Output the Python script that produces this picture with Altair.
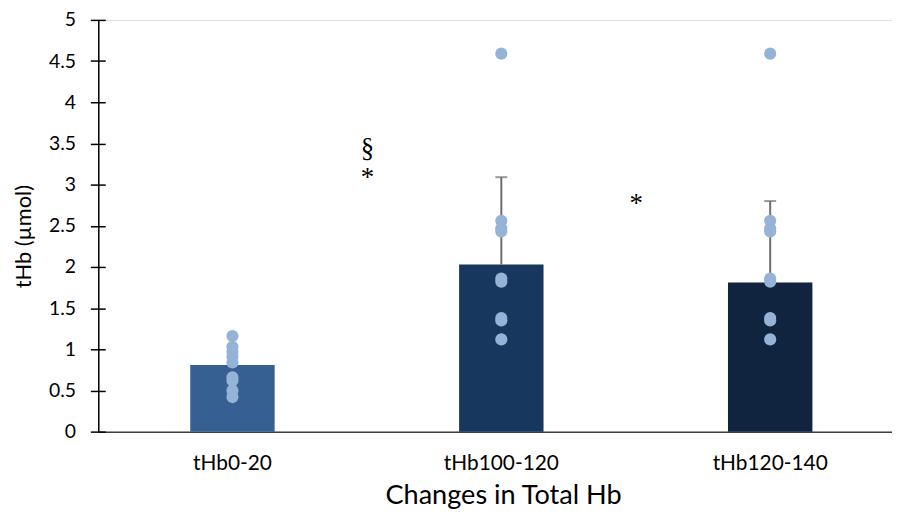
import altair as alt
import pandas as pd

categories = ["tHb0-20", "tHb100-120", "tHb120-140"]
means = [0.81, 2.03, 1.81]
err_top = [None, 3.09, 2.80]
bar_colors = ["#376092", "#17375E", "#10243F"]

points_0_20 = [1.16, 1.03, 0.97, 0.91, 0.84, 0.66, 0.62, 0.50, 0.42]
points_100_120 = [4.59, 2.56, 2.47, 2.43, 1.86, 1.82, 1.38, 1.35, 1.12]
points_120_140 = [4.59, 2.56, 2.47, 2.43, 1.86, 1.82, 1.38, 1.35, 1.12]

ann_text = ["§", "*", "*"]
ann_cat = ["tHb0-20", "tHb0-20", "tHb100-120"]
ann_y = [3.33, 2.98, 2.67]

y_ticks = [0, 0.5, 1, 1.5, 2, 2.5, 3, 3.5, 4, 4.5, 5]

bars_df = pd.DataFrame({"cat": categories, "mean": means, "color": bar_colors})
err_df = pd.DataFrame({"cat": categories, "mean": means, "top": err_top}).dropna()
pts_df = pd.DataFrame({
    "cat": [categories[0]] * len(points_0_20) + [categories[1]] * len(points_100_120)
           + [categories[2]] * len(points_120_140),
    "val": points_0_20 + points_100_120 + points_120_140,
})
ann_df = pd.DataFrame({"cat": ann_cat, "y": ann_y, "t": ann_text})

FONT = "Lato"

xscale = alt.Scale(domain=categories, paddingInner=0.686, paddingOuter=0.319, align=0.536)
yscale = alt.Scale(domain=[0, 5])

x_enc = alt.X("cat:N", scale=xscale, sort=categories,
              axis=alt.Axis(title="Changes in Total Hb", labelAngle=0, ticks=False, tickSize=0,
                            labelPadding=21, titlePadding=8, labelFontSize=21, titleFontSize=27.3,
                            titleX=408,
                            labelFont=FONT, titleFont=FONT, labelColor="#000", titleColor="#000",
                            titleFontWeight="normal", domainColor="#404040", domainWidth=1.5))
y_axis = alt.Axis(title="tHb (µmol)", values=y_ticks,
                  format="~g", grid=False, tickSize=8, tickColor="#000", tickWidth=1.5,
                  labelPadding=15, titlePadding=13, labelFontSize=19.5, titleFontSize=22,
                  titleY=218,
                  labelFont=FONT, titleFont=FONT, labelColor="#000", titleColor="#000",
                  titleFontWeight="normal", domainColor="#000", domainWidth=1.5)
y_axis_inner = alt.Axis(title=None, values=y_ticks, grid=False, labels=False, domain=False,
                        tickSize=7, tickColor="#000", tickWidth=1.5, offset=-7, orient="left")

bars = alt.Chart(bars_df).mark_bar().encode(
    x=x_enc,
    y=alt.Y("mean:Q", scale=yscale, axis=y_axis),
    color=alt.Color("color:N", scale=None),
)

err = alt.Chart(err_df).mark_rule(color="#6d6d6d", strokeWidth=2).encode(
    x=alt.X("cat:N", scale=xscale, sort=categories),
    y=alt.Y("mean:Q", scale=yscale, axis=y_axis_inner),
    y2="top:Q",
)
caps = alt.Chart(err_df).mark_tick(color="#6d6d6d", size=12, thickness=2, orient="horizontal").encode(
    x=alt.X("cat:N", scale=xscale, sort=categories),
    y=alt.Y("top:Q", scale=yscale, axis=None),
)

pts = alt.Chart(pts_df).mark_circle(size=150, color="#95B3D7", opacity=1).encode(
    x=alt.X("cat:N", scale=xscale, sort=categories),
    y=alt.Y("val:Q", scale=yscale, axis=None),
)

ann = alt.Chart(ann_df).mark_text(font="Liberation Serif", fontSize=27, dx=136,
                                  baseline="alphabetic", color="#000").encode(
    x=alt.X("cat:N", scale=xscale, sort=categories),
    y=alt.Y("y:Q", scale=yscale, axis=None),
    text="t:N",
)

chart = alt.layer(bars, err, caps, pts, ann).resolve_axis(y="independent").properties(
    width=800, height=415,
    autosize=alt.AutoSizeParams(type="none"),
    padding={"left": 91, "top": 10, "right": 0, "bottom": 78},
).configure_view(stroke=None).configure(background="white")

chart.save("out.html", embed_options={"renderer": "svg", "actions": False})
